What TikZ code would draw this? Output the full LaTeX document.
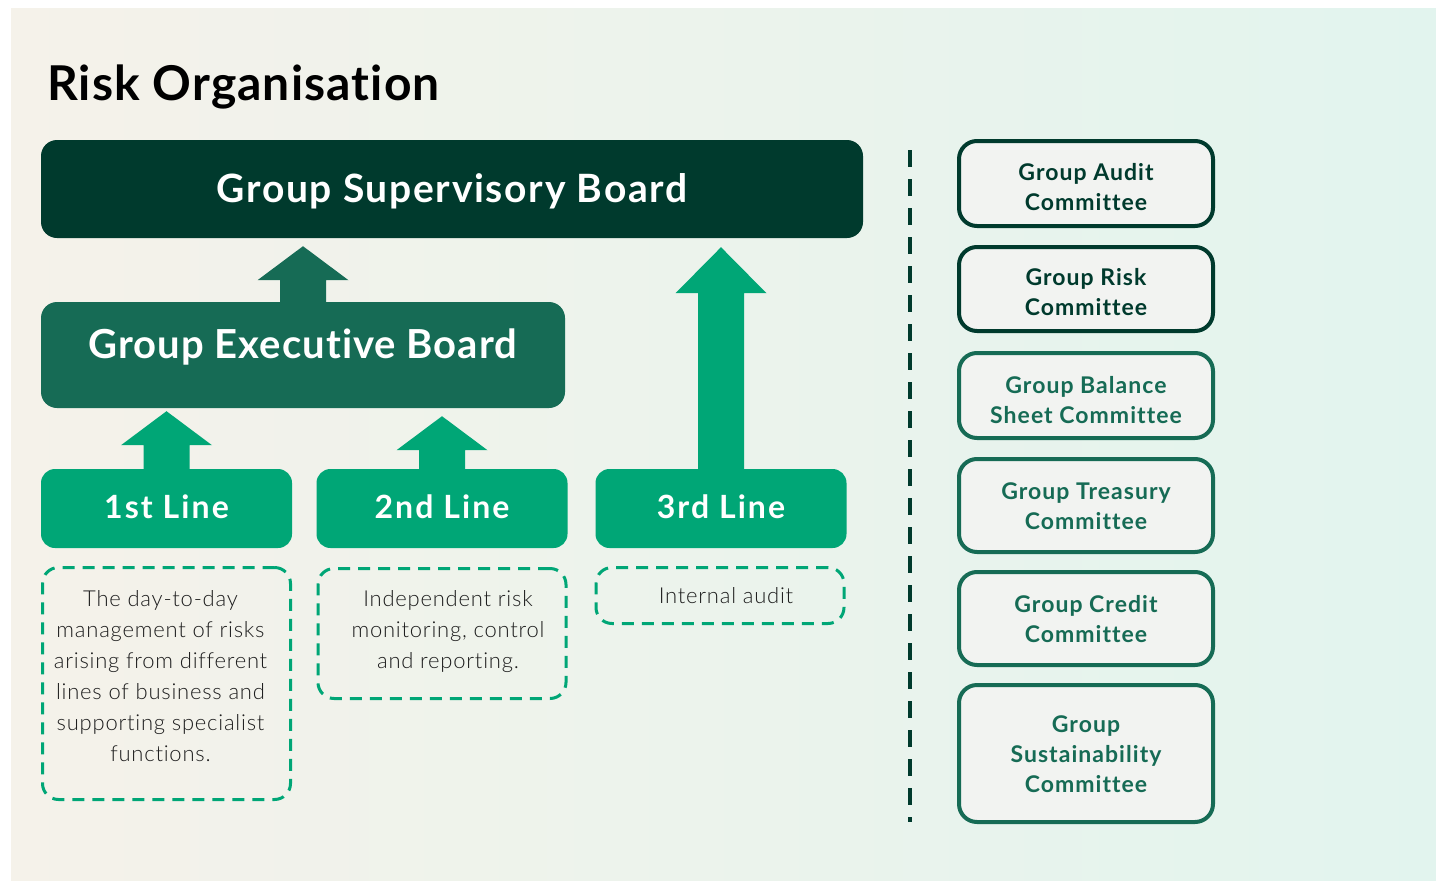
\documentclass[tikz,border=0pt]{standalone}
\usepackage{fontspec}
\setmainfont{Lato}[Ligatures=NoCommon]
\newfontfamily\lightfont{Lato Light}[Ligatures=NoCommon]
\usetikzlibrary{calc}

\definecolor{bgcream}{HTML}{F5F2EA}
\definecolor{bgmint}{HTML}{E2F4EE}
\definecolor{darkgreen}{HTML}{003A2D}
\definecolor{midgreen}{HTML}{166B55}
\definecolor{brightgreen}{HTML}{00A676}
\definecolor{boxfill}{HTML}{F2F3F1}
\definecolor{inktext}{HTML}{1E1E1E}

% block arrow pointing up from the top of #2 to just below #3
% #1 style, #4 gap below target, #5 head length
\newcommand\flowarrow[5]{%
  \fill[#1] let \p1=(#2.north), \p2=(#3.south) in
    (\x1-23pt,\y1) -- (\x1-23pt,\y2-#4-#5) -- (\x1-45.5pt,\y2-#4-#5)
    -- (\x1,\y2-#4) -- (\x1+45.5pt,\y2-#4-#5) -- (\x1+23pt,\y2-#4-#5)
    -- (\x1+23pt,\y1) -- cycle;}

\begin{document}
\begin{tikzpicture}[x=1pt,y=-1pt,
  board/.style={rounded corners=16pt, inner sep=0pt, text=white, font=\bfseries},
  linebox/.style={board, fill=brightgreen, rounded corners=14pt,
    minimum width=251pt, minimum height=79pt, text height=19pt, text depth=0pt,
    font=\bfseries\fontsize{32}{38}\selectfont\addfontfeature{LetterSpace=6.5}},
  descbox/.style={draw=brightgreen, line width=3pt, dash pattern=on 12pt off 8pt,
    rounded corners=16pt, inner sep=0pt, minimum width=248pt},
  desctext/.style={anchor=north, align=center, inner sep=0pt, text=inktext,
    font=\lightfont\fontsize{22}{31}\selectfont\addfontfeature{LetterSpace=3.5}},
  committee/.style={draw=#1, line width=4pt, rounded corners=18pt,
    fill=boxfill, minimum width=254pt, inner sep=0pt},
  comtext/.style={text=#1, align=center, inner sep=0pt,
    font=\bfseries\fontsize{23}{30}\selectfont\addfontfeature{LetterSpace=4.5}},
]
% page and background
\useasboundingbox (0,0) rectangle (1436,881);
\fill[white] (0,0) rectangle (1436,881);
\shade[left color=bgcream, right color=bgmint] (11,8) rectangle (1436,881);

% title
\node[anchor=base west, inner sep=0pt, text=black,
  font=\bfseries\fontsize{48}{52}\selectfont\addfontfeature{LetterSpace=2.3}]
  (title) at (47,100) {Risk Organisation};

% boards
\node[board, fill=darkgreen, minimum width=822pt, minimum height=98pt,
  text height=26pt, text depth=0pt,
  font=\bfseries\fontsize{39}{46}\selectfont\addfontfeature{LetterSpace=4.3}]
  (gsb) at (452,189) {Group Supervisory Board};
\node[board, fill=midgreen, minimum width=524pt, minimum height=106pt,
  text height=10pt, text depth=4pt,
  font=\bfseries\fontsize{40}{46}\selectfont\addfontfeature{LetterSpace=2.5}]
  (geb) at (303,355) {Group Executive Board};

% lines of defence
\node[linebox] (l1) at (166.5,508.5) {1st Line};
\node[linebox] (l2) at (442,508.5) {2nd Line};
\node[linebox] (l3) at (721,508.5) {3rd Line};

% arrows
\flowarrow{midgreen}{geb}{gsb}{8pt}{34pt}
\flowarrow{brightgreen}{l1}{geb}{3pt}{34pt}
\flowarrow{brightgreen}{l2}{geb}{8pt}{34pt}
\flowarrow{brightgreen}{l3}{gsb}{9pt}{46pt}

% descriptions
\node[descbox, minimum height=232pt] (d1) at (166.5,683.5) {};
\node[descbox, minimum height=130pt] (d2) at (442,633.5) {};
\node[descbox, minimum height=56pt] (d3) at (720,595.5) {};
\node[desctext] (t1) at ($(d1.north)+(-6,24)$) {The day-to-day\\management of risks\\arising from different\\lines of business and\\supporting specialist\\functions.};
\node[desctext] (t2) at ($(d2.north)+(6,23)$) {Independent risk\\monitoring, control\\and reporting.};
\node[desctext] (t3) at ($(d3.north)+(6,21)$) {Internal audit};

% divider
\coordinate (divtop) at (910,150);
\coordinate (divbot) at (910,822);
\draw[darkgreen, line width=3.5pt, dash pattern=on 17pt off 12pt] (divtop) -- (divbot);

% committees
\node[committee=darkgreen, minimum height=85pt] (c1) at (1086,183.5) {};
\node[committee=darkgreen, minimum height=84pt] (c2) at (1086,289) {};
\node[committee=midgreen, minimum height=85pt] (c3) at (1086,395.5) {};
\node[committee=midgreen, minimum height=93pt] (c4) at (1086,505.5) {};
\node[committee=midgreen, minimum height=93pt] (c5) at (1086,618.5) {};
\node[committee=midgreen, minimum height=137pt] (c6) at (1086,753.5) {};
\node[comtext=darkgreen] (c1t) at ($(c1.center)+(0,4)$) {Group Audit\\Committee};
\node[comtext=darkgreen] (c2t) at ($(c2.center)+(0,3)$) {Group Risk\\Committee};
\node[comtext=midgreen] (c3t) at ($(c3.center)+(0,4.5)$) {Group Balance\\Sheet Committee};
\node[comtext=midgreen] (c4t) at ($(c4.center)+(0,1)$) {Group Treasury\\Committee};
\node[comtext=midgreen] (c5t) at ($(c5.center)+(0,1)$) {Group Credit\\Committee};
\node[comtext=midgreen] (c6t) at ($(c6.center)+(0,1)$) {Group\\Sustainability\\Committee};
\end{tikzpicture}
\end{document}
